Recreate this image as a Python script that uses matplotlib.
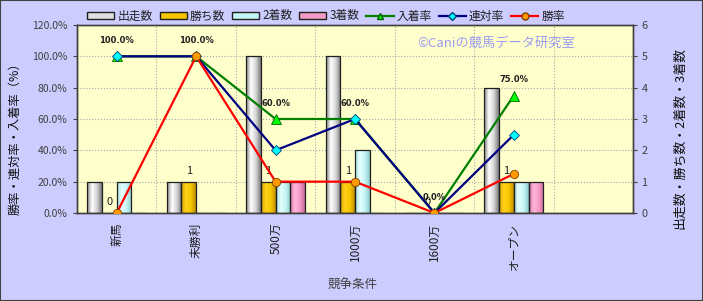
"""Race condition chart: counts as bars, rates as lines."""

import matplotlib.pyplot as plt
import numpy as np
from matplotlib.colors import LinearSegmentedColormap
from matplotlib.lines import Line2D
from matplotlib.patches import Patch, Rectangle

plt.rcParams['font.family'] = ['Noto Sans CJK JP', 'DejaVu Sans']

categories = ['新馬', '未勝利', '500万', '1000万', '1600万', 'オープン']
starts = [1, 1, 5, 5, 0, 4]
wins = [0, 1, 1, 1, 0, 1]
seconds = [1, 0, 1, 2, 0, 1]
thirds = [0, 0, 1, 0, 0, 1]
place_rate = [100.0, 100.0, 60.0, 60.0, 0.0, 75.0]
rentai_rate = [100.0, 100.0, 40.0, 60.0, 0.0, 50.0]
win_rate = [0.0, 100.0, 20.0, 20.0, 0.0, 25.0]

BAR_W = 0.185
EDGE = '#202020'
TXT = '#404040'


def gradient_bars(ax, x, heights, stops):
    """Draw bars filled with a horizontal gradient."""
    cmap = LinearSegmentedColormap.from_list('bar', stops)
    grad = np.linspace(0, 1, 64).reshape(1, -1)
    bars = ax.bar(x, heights, width=BAR_W, color=stops[1], edgecolor='none', zorder=2)
    for rect in bars:
        h = rect.get_height()
        if h <= 0:
            continue
        x0 = rect.get_x()
        im = ax.imshow(grad, cmap=cmap, extent=(x0, x0 + rect.get_width(), 0, h),
                       aspect='auto', zorder=2.01, interpolation='bilinear')
        im.set_clip_path(rect)
    ax.bar(x, heights, width=BAR_W, fill=False, edgecolor=EDGE, linewidth=0.9, zorder=2.02)


fig = plt.figure(figsize=(7.03, 3.01), dpi=100, facecolor='#CCCCFF')
ax = fig.add_axes([77 / 703, 1 - 213 / 301, (633 - 77) / 703, (213 - 25) / 301])
ax.set_facecolor('#FFFFCC')
ax2 = ax.twinx()

x = np.arange(len(categories))

# Bars (count axis, right side)
bar_styles = [
    (starts, ['#858585', '#ffffff', '#d5d5d5', '#7a7a7a']),
    (wins, ['#d8a400', '#ffd21a', '#f7c600', '#c09000']),
    (seconds, ['#a8dede', '#e6ffff', '#c4f4f4', '#90c8c8']),
    (thirds, ['#d878a8', '#ffb8dc', '#f49ac6', '#c86a9a']),
]
for i, (vals, stops) in enumerate(bar_styles):
    gradient_bars(ax, x + (i - 1.5) * BAR_W, vals, stops)

for xi, v in zip(x, wins):
    ax.annotate(str(v), (xi - 0.5 * BAR_W, v), xytext=(0, 4), textcoords='offset points',
                ha='center', va='bottom', fontsize=8, color='#202020', zorder=5)

# Lines (rate axis, left side)
ax2.plot(x, place_rate, color='#008000', lw=1.6, marker='^', ms=6.5,
         mfc='#00FF00', mec='#006000', mew=0.6, zorder=3)
ax2.plot(x, rentai_rate, color='#000080', lw=1.6, marker='D', ms=5,
         mfc='#00FFFF', mec='#004080', mew=0.6, zorder=4)
ax2.plot(x, win_rate, color='#FF0000', lw=1.6, marker='o', ms=6,
         mfc='#FF9900', mec='#804000', mew=0.6, zorder=5)

for xi, v in zip(x, place_rate):
    ax2.annotate(f'{v:.1f}%', (xi, v), xytext=(0, 8), textcoords='offset points',
                 ha='center', va='bottom', fontsize=6, fontweight='bold',
                 family='DejaVu Sans', color='#202020', zorder=6)

# Axes setup
ax.set_xlim(-0.5, 6.5)
ax.set_ylim(0, 6)
ax2.set_ylim(0, 120)
ax.yaxis.set_ticks_position('right')
ax2.yaxis.set_ticks_position('left')
ax.set_yticks(range(7))
ax2.set_yticks(range(0, 121, 20))
ax2.set_yticklabels([f'{v:.1f}%' for v in range(0, 121, 20)])
ax.set_xticks(x)
ax.set_xticklabels(categories, rotation=90, va='top', ha='center')
ax.set_xticks(np.arange(-0.5, 7, 1), minor=True)
ax.tick_params(axis='x', which='both', length=0, pad=7, labelsize=8.5, colors='#202020')
ax.tick_params(axis='y', length=3, pad=3, labelsize=7.8, colors=TXT)
ax2.tick_params(axis='y', length=3, pad=4, labelsize=7.5, colors=TXT)

ax.set_axisbelow(True)
ax.grid(True, which='minor', axis='x', color='#A8A8A8', ls=':', lw=0.8)
ax.grid(True, which='major', axis='y', color='#A8A8A8', ls=':', lw=0.8)
for a in (ax, ax2):
    for s in a.spines.values():
        s.set_color('#404040')
        s.set_linewidth(1.0)

# Texts
fig.text(15 / 703, 1 - 136 / 301, '勝率・連対率・入着率（%）', rotation=90,
         ha='center', va='center', fontsize=8.8, color='#101010')
fig.text(680 / 703, 1 - 138 / 301, '出走数・勝ち数・2着数・3着数', rotation=90,
         ha='center', va='center', fontsize=9.3, color='#101010')
fig.text(353 / 703, 1 - 285 / 301, '競争条件', ha='center', va='center',
         fontsize=9, color=TXT)
fig.text(496 / 703, 1 - 43 / 301, '©Caniの競馬データ研究室', ha='center', va='center',
         fontsize=9.5, color='#9C9CF4')

# Legend
handles = [
    Patch(facecolor='#e0e0e0', edgecolor=EDGE, label='出走数'),
    Patch(facecolor='#f7c600', edgecolor=EDGE, label='勝ち数'),
    Patch(facecolor='#c4f4f4', edgecolor=EDGE, label='2着数'),
    Patch(facecolor='#f49ac6', edgecolor=EDGE, label='3着数'),
    Line2D([], [], color='#008000', lw=1.6, marker='^', ms=5, mfc='#00FF00', mec='#006000', label='入着率'),
    Line2D([], [], color='#000080', lw=1.6, marker='D', ms=4, mfc='#00FFFF', mec='#004080', label='連対率'),
    Line2D([], [], color='#FF0000', lw=1.6, marker='o', ms=5, mfc='#FF9900', mec='#804000', label='勝率'),
]
fig.legend(handles=handles, loc='center', bbox_to_anchor=(326 / 703, 1 - 16 / 301), ncol=7,
           frameon=False, fontsize=8.5, handlelength=2.3, handleheight=0.5,
           handletextpad=0.25, columnspacing=0.6, labelcolor='#202020')

fig.patches.append(Rectangle((0, 0), 1, 1, transform=fig.transFigure, fill=False,
                             edgecolor='#404040', linewidth=1.5))

fig.savefig('out.png', dpi=100, facecolor=fig.get_facecolor())
